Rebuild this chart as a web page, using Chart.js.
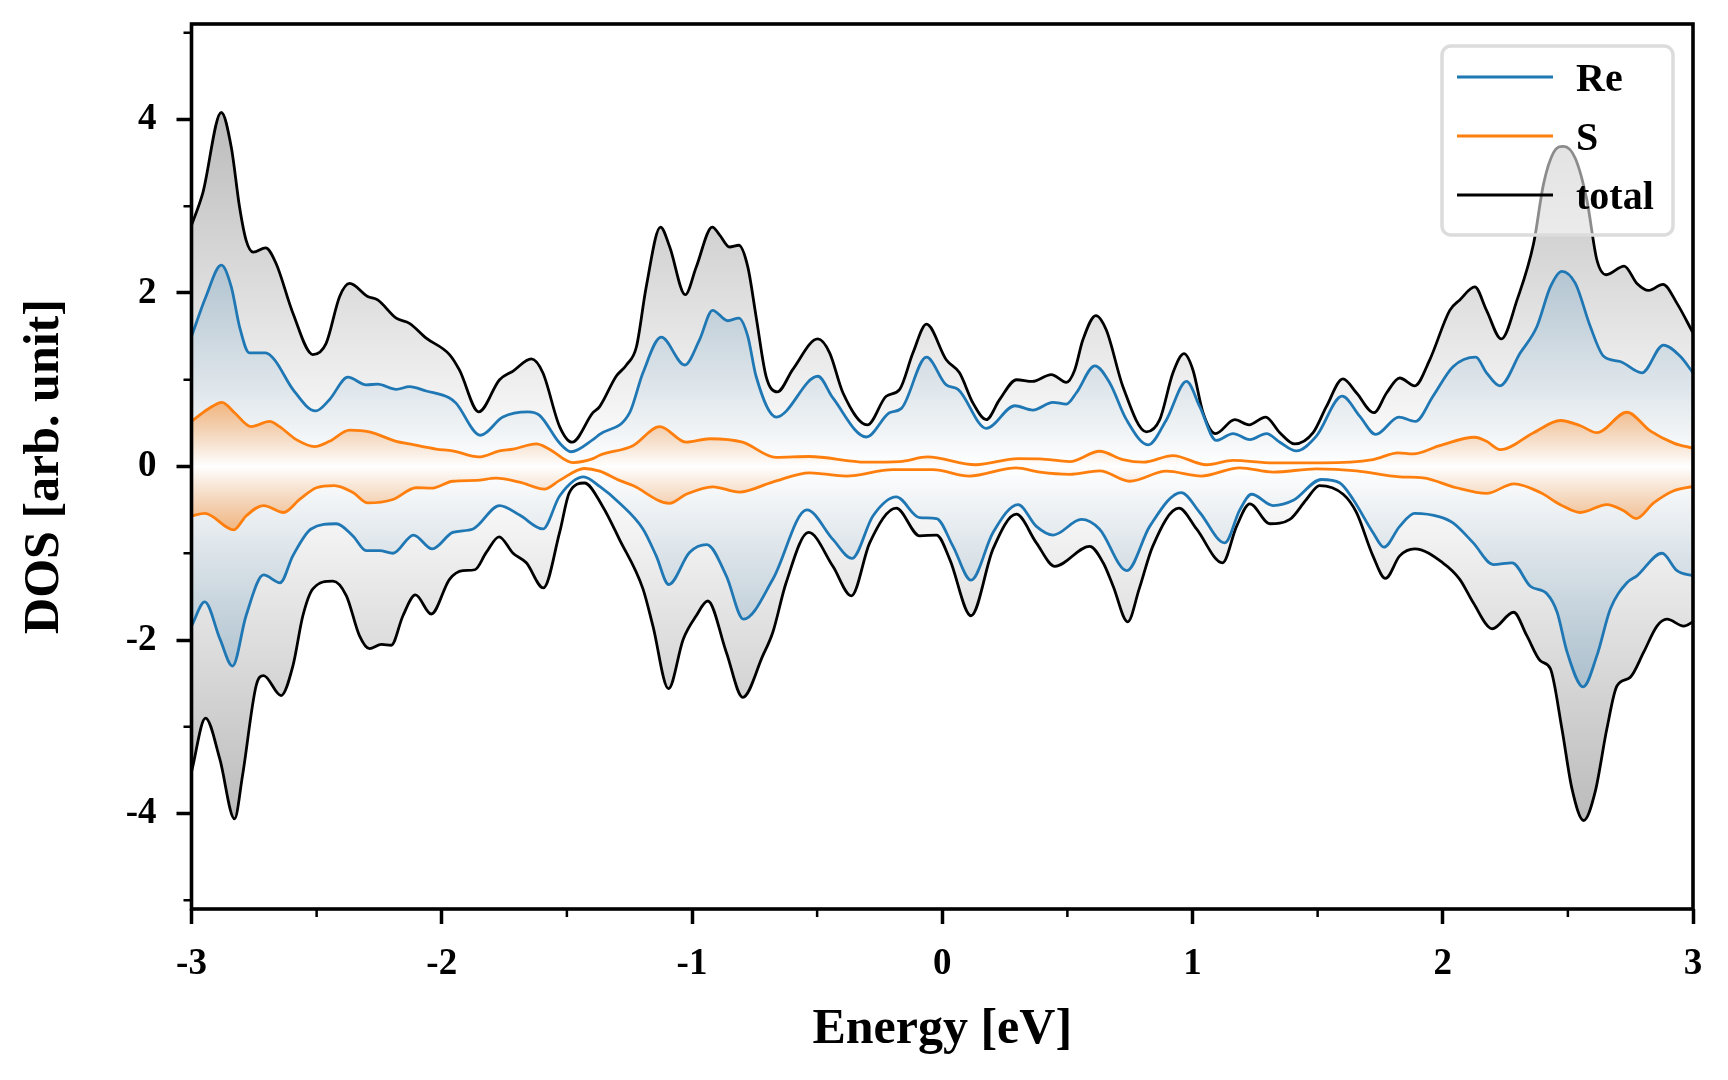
<!DOCTYPE html>
<html>
<head>
<meta charset="utf-8">
<script src="https://cdn.jsdelivr.net/npm/chart.js@4.4.1/dist/chart.umd.min.js"></script>
<style>
  html, body { margin: 0; padding: 0; background: #fff; }
  #wrap { width: 1728px; height: 1080px; position: relative; }
</style>
</head>
<body>
<div id="wrap"><canvas id="c"></canvas></div>
<script>
// ---- data: [energy (eV), DOS] ----
const totalUp = [[-3.000,2.78],[-2.955,3.15],[-2.881,4.08],[-2.841,3.68],[-2.808,2.99],[-2.782,2.61],[-2.753,2.47],[-2.704,2.52],[-2.662,2.34],[-2.595,1.77],[-2.515,1.29],[-2.462,1.42],[-2.408,1.96],[-2.368,2.11],[-2.296,1.96],[-2.256,1.92],[-2.182,1.71],[-2.129,1.65],[-2.062,1.48],[-1.969,1.29],[-1.929,1.11],[-1.852,0.63],[-1.769,1.00],[-1.715,1.10],[-1.642,1.24],[-1.596,1.08],[-1.529,0.46],[-1.479,0.28],[-1.396,0.62],[-1.369,0.69],[-1.303,1.04],[-1.262,1.17],[-1.222,1.38],[-1.183,2.07],[-1.126,2.76],[-1.089,2.53],[-1.027,1.98],[-0.983,2.30],[-0.919,2.76],[-0.890,2.67],[-0.850,2.53],[-0.813,2.55],[-0.777,2.30],[-0.744,1.73],[-0.704,1.04],[-0.659,0.86],[-0.597,1.12],[-0.497,1.47],[-0.450,1.31],[-0.397,0.85],[-0.299,0.48],[-0.224,0.81],[-0.170,0.89],[-0.117,1.31],[-0.063,1.64],[0.016,1.23],[0.069,1.08],[0.123,0.73],[0.176,0.54],[0.229,0.77],[0.297,1.00],[0.360,0.98],[0.436,1.06],[0.496,0.97],[0.529,1.11],[0.562,1.46],[0.614,1.74],[0.656,1.57],[0.722,0.92],[0.816,0.40],[0.869,0.54],[0.922,1.08],[0.966,1.30],[1.002,1.11],[1.042,0.62],[1.092,0.38],[1.169,0.54],[1.226,0.48],[1.292,0.57],[1.349,0.39],[1.408,0.26],[1.482,0.39],[1.535,0.69],[1.601,1.01],[1.655,0.85],[1.725,0.62],[1.776,0.85],[1.828,1.02],[1.888,0.93],[1.948,1.23],[2.028,1.80],[2.068,1.92],[2.128,2.07],[2.175,1.80],[2.234,1.47],[2.297,1.92],[2.363,2.57],[2.403,3.26],[2.443,3.62],[2.483,3.69],[2.530,3.55],[2.576,3.07],[2.616,2.38],[2.653,2.21],[2.725,2.31],[2.776,2.11],[2.823,2.03],[2.880,2.10],[2.936,1.88],[3.000,1.54]];

const totalDown = [[-3.000,-3.52],[-2.944,-2.90],[-2.887,-3.37],[-2.828,-4.06],[-2.796,-3.56],[-2.742,-2.53],[-2.712,-2.41],[-2.642,-2.64],[-2.595,-2.30],[-2.555,-1.72],[-2.515,-1.41],[-2.435,-1.32],[-2.381,-1.49],[-2.329,-1.95],[-2.289,-2.10],[-2.241,-2.05],[-2.202,-2.06],[-2.155,-1.72],[-2.105,-1.48],[-2.042,-1.70],[-1.969,-1.30],[-1.916,-1.20],[-1.868,-1.19],[-1.822,-0.99],[-1.771,-0.81],[-1.715,-1.00],[-1.662,-1.11],[-1.594,-1.40],[-1.529,-0.76],[-1.490,-0.30],[-1.430,-0.19],[-1.357,-0.46],[-1.290,-0.84],[-1.196,-1.41],[-1.156,-1.84],[-1.094,-2.56],[-1.035,-1.99],[-0.983,-1.72],[-0.937,-1.55],[-0.863,-2.14],[-0.797,-2.66],[-0.717,-2.18],[-0.677,-1.91],[-0.624,-1.34],[-0.534,-0.76],[-0.437,-1.15],[-0.363,-1.49],[-0.290,-0.88],[-0.184,-0.48],[-0.090,-0.80],[-0.023,-0.79],[0.030,-1.07],[0.115,-1.72],[0.203,-0.95],[0.296,-0.55],[0.376,-0.88],[0.450,-1.15],[0.589,-0.92],[0.643,-1.11],[0.683,-1.38],[0.741,-1.79],[0.787,-1.41],[0.841,-0.92],[0.946,-0.48],[1.016,-0.72],[1.120,-1.11],[1.176,-0.69],[1.229,-0.43],[1.309,-0.66],[1.389,-0.61],[1.455,-0.38],[1.508,-0.22],[1.602,-0.32],[1.655,-0.53],[1.721,-1.03],[1.771,-1.29],[1.828,-1.03],[1.888,-0.95],[2.000,-1.11],[2.068,-1.30],[2.122,-1.57],[2.198,-1.87],[2.283,-1.68],[2.336,-1.95],[2.390,-2.24],[2.430,-2.33],[2.476,-3.02],[2.516,-3.71],[2.563,-4.08],[2.609,-3.75],[2.656,-3.02],[2.696,-2.53],[2.749,-2.43],[2.803,-2.14],[2.856,-1.84],[2.896,-1.76],[2.963,-1.84],[3.000,-1.79]];

const reUp = [[-3.000,1.50],[-2.942,1.96],[-2.881,2.32],[-2.841,2.07],[-2.808,1.61],[-2.769,1.31],[-2.704,1.31],[-2.668,1.23],[-2.595,0.89],[-2.504,0.64],[-2.449,0.77],[-2.375,1.03],[-2.302,0.94],[-2.256,0.95],[-2.182,0.89],[-2.129,0.92],[-2.062,0.87],[-1.969,0.79],[-1.943,0.73],[-1.846,0.36],[-1.756,0.57],[-1.656,0.63],[-1.609,0.59],[-1.529,0.27],[-1.483,0.17],[-1.396,0.31],[-1.369,0.37],[-1.249,0.62],[-1.196,1.08],[-1.123,1.49],[-1.029,1.17],[-0.970,1.46],[-0.918,1.80],[-0.857,1.68],[-0.813,1.71],[-0.777,1.50],[-0.744,1.04],[-0.663,0.57],[-0.497,1.04],[-0.437,0.79],[-0.303,0.34],[-0.211,0.62],[-0.163,0.67],[-0.063,1.26],[0.016,0.94],[0.063,0.89],[0.176,0.44],[0.290,0.70],[0.362,0.65],[0.442,0.74],[0.496,0.72],[0.536,0.85],[0.610,1.16],[0.670,0.96],[0.736,0.54],[0.823,0.25],[0.896,0.54],[0.976,0.98],[1.029,0.69],[1.095,0.30],[1.162,0.38],[1.229,0.31],[1.296,0.38],[1.349,0.28],[1.415,0.18],[1.495,0.35],[1.598,0.81],[1.668,0.58],[1.732,0.37],[1.825,0.57],[1.891,0.52],[1.961,0.81],[2.041,1.15],[2.132,1.26],[2.175,1.08],[2.228,0.93],[2.310,1.31],[2.376,1.61],[2.430,2.07],[2.476,2.25],[2.530,2.11],[2.590,1.61],[2.643,1.27],[2.709,1.21],[2.796,1.08],[2.882,1.40],[2.949,1.27],[3.000,1.08]];

const reDown = [[-3.000,-1.84],[-2.947,-1.56],[-2.886,-1.99],[-2.836,-2.30],[-2.782,-1.72],[-2.712,-1.25],[-2.646,-1.34],[-2.595,-1.03],[-2.522,-0.72],[-2.422,-0.66],[-2.355,-0.80],[-2.302,-0.97],[-2.249,-0.97],[-2.195,-1.00],[-2.113,-0.79],[-2.038,-0.95],[-1.956,-0.76],[-1.875,-0.72],[-1.769,-0.45],[-1.689,-0.56],[-1.596,-0.72],[-1.529,-0.34],[-1.433,-0.12],[-1.369,-0.23],[-1.290,-0.42],[-1.196,-0.72],[-1.143,-1.03],[-1.093,-1.36],[-1.010,-0.99],[-0.941,-0.90],[-0.863,-1.26],[-0.794,-1.76],[-0.677,-1.30],[-0.541,-0.50],[-0.437,-0.84],[-0.361,-1.06],[-0.277,-0.57],[-0.184,-0.35],[-0.090,-0.59],[-0.023,-0.60],[0.043,-0.92],[0.115,-1.31],[0.203,-0.76],[0.303,-0.44],[0.376,-0.69],[0.443,-0.79],[0.556,-0.61],[0.628,-0.72],[0.738,-1.20],[0.829,-0.69],[0.955,-0.30],[1.029,-0.53],[1.129,-0.88],[1.189,-0.50],[1.236,-0.32],[1.322,-0.45],[1.403,-0.39],[1.515,-0.15],[1.589,-0.19],[1.642,-0.38],[1.721,-0.76],[1.765,-0.93],[1.828,-0.69],[1.888,-0.54],[1.988,-0.58],[2.041,-0.65],[2.122,-0.88],[2.202,-1.13],[2.277,-1.11],[2.350,-1.38],[2.417,-1.47],[2.457,-1.68],[2.497,-2.14],[2.561,-2.54],[2.616,-2.18],[2.670,-1.64],[2.736,-1.34],[2.776,-1.26],[2.876,-1.00],[2.936,-1.20],[3.000,-1.26]];

const sUp = [[-3.000,0.52],[-2.935,0.66],[-2.878,0.74],[-2.828,0.62],[-2.762,0.46],[-2.688,0.52],[-2.648,0.46],[-2.581,0.31],[-2.508,0.23],[-2.449,0.29],[-2.368,0.42],[-2.289,0.40],[-2.182,0.29],[-2.129,0.26],[-2.022,0.20],[-1.956,0.18],[-1.852,0.11],[-1.769,0.18],[-1.715,0.20],[-1.622,0.26],[-1.570,0.20],[-1.476,0.045],[-1.396,0.09],[-1.369,0.13],[-1.236,0.24],[-1.129,0.46],[-1.023,0.28],[-0.929,0.32],[-0.798,0.28],[-0.665,0.105],[-0.531,0.115],[-0.304,0.05],[-0.170,0.057],[-0.059,0.11],[0.133,0.02],[0.303,0.09],[0.390,0.088],[0.509,0.057],[0.629,0.176],[0.722,0.08],[0.803,0.05],[0.922,0.126],[1.055,0.02],[1.162,0.07],[1.322,0.042],[1.521,0.042],[1.721,0.08],[1.822,0.157],[1.881,0.145],[1.988,0.24],[2.128,0.337],[2.175,0.29],[2.230,0.195],[2.363,0.39],[2.470,0.53],[2.550,0.47],[2.616,0.39],[2.736,0.625],[2.829,0.41],[2.923,0.27],[3.000,0.21]];

const sDown = [[-3.000,-0.57],[-2.947,-0.54],[-2.831,-0.73],[-2.782,-0.57],[-2.712,-0.45],[-2.632,-0.53],[-2.568,-0.38],[-2.501,-0.245],[-2.429,-0.22],[-2.355,-0.30],[-2.296,-0.42],[-2.195,-0.38],[-2.102,-0.245],[-2.042,-0.25],[-1.956,-0.17],[-1.862,-0.16],[-1.783,-0.135],[-1.689,-0.18],[-1.590,-0.26],[-1.529,-0.16],[-1.430,-0.023],[-1.369,-0.054],[-1.290,-0.16],[-1.236,-0.22],[-1.090,-0.425],[-1.023,-0.32],[-0.917,-0.234],[-0.811,-0.295],[-0.678,-0.18],[-0.529,-0.073],[-0.384,-0.11],[-0.197,-0.035],[-0.038,-0.035],[0.108,-0.11],[0.295,-0.015],[0.390,-0.065],[0.509,-0.09],[0.629,-0.05],[0.749,-0.17],[0.895,-0.054],[1.035,-0.11],[1.189,-0.015],[1.322,-0.065],[1.495,-0.027],[1.655,-0.05],[1.828,-0.12],[1.921,-0.13],[2.054,-0.245],[2.175,-0.31],[2.285,-0.20],[2.390,-0.30],[2.470,-0.44],[2.550,-0.53],[2.656,-0.44],[2.723,-0.51],[2.773,-0.60],[2.843,-0.42],[2.923,-0.28],[3.000,-0.23]];

const seriesLabels = ['Re', 'S', 'total'];
const xRange = [-3, 3];
const yRange = [-5.1, 5.1];

// ---- styling ----
const FONT = "'Liberation Serif', 'Times New Roman', serif";
const COL = { Re: '#1f77b4', S: '#ff7f0e', total: '#000000' };
const GRAD = {
  total: [[5.1, 'rgb(170,170,170)'], [0, 'rgb(255,255,255)'], [-5.1, 'rgb(170,170,170)']],
  Re:    [[5.1, 'rgba(31,119,180,0.46)'], [0, 'rgba(31,119,180,0)'], [-5.1, 'rgba(31,119,180,0.46)']],
  S:     [[1.5, 'rgba(255,127,14,1)'], [0, 'rgba(255,127,14,0)'], [-1.5, 'rgba(255,127,14,1)']]
};

function gradFor(name) {
  return function (context) {
    const chart = context.chart;
    const { ctx, chartArea, scales } = chart;
    if (!chartArea || !scales || !scales.y) return 'rgba(0,0,0,0)';
    const stops = GRAD[name];
    const v0 = stops[0][0], v1 = stops[stops.length - 1][0];
    const p0 = scales.y.getPixelForValue(v0), p1 = scales.y.getPixelForValue(v1);
    const g = ctx.createLinearGradient(0, p0, 0, p1);
    stops.forEach(([v, c]) => g.addColorStop((v0 - v) / (v0 - v1), c));
    return g;
  };
}

function toXY(arr) { return arr.map(([x, y]) => ({ x, y })); }

function ds(name, arr, order, inLegend) {
  return {
    label: inLegend ? name : '',
    legendName: name,
    showInLegend: inLegend,
    data: toXY(arr),
    borderColor: COL[name],
    backgroundColor: gradFor(name),
    borderWidth: 2.8,
    fill: 'origin',
    pointRadius: 0,
    pointHoverRadius: 0,
    cubicInterpolationMode: 'monotone',
    order: order
  };
}

const datasets = [
  ds('Re', reUp, 1, true),
  ds('Re', reDown, 1, false),
  ds('S', sUp, 0, true),
  ds('S', sDown, 0, false),
  ds('total', totalUp, 2, true),
  ds('total', totalDown, 2, false)
];

// legend drawn inside the plot area (top right)
const insideLegend = {
  id: 'insideLegend',
  afterDatasetsDraw(chart) {
    const { ctx, chartArea: a } = chart;
    const w = 231, h = 189;
    const x0 = a.right - 20 - w, y0 = a.top + 22;
    ctx.save();
    ctx.beginPath();
    ctx.roundRect(x0, y0, w, h, 9);
    ctx.fillStyle = 'rgba(255,255,255,0.55)';
    ctx.fill();
    ctx.lineWidth = 3.5;
    ctx.strokeStyle = '#dcdcdc';
    ctx.stroke();
    const items = seriesLabels.map(n => chart.data.datasets.find(d => d.showInLegend && d.legendName === n));
    items.forEach((d, i) => {
      const yy = y0 + 31 + i * 59;
      ctx.beginPath();
      ctx.moveTo(x0 + 15, yy);
      ctx.lineTo(x0 + 111, yy);
      ctx.strokeStyle = d.borderColor;
      ctx.lineWidth = 2.8;
      ctx.stroke();
      ctx.fillStyle = '#000';
      ctx.font = 'bold 40px ' + FONT;
      ctx.textAlign = 'left';
      ctx.textBaseline = 'alphabetic';
      ctx.fillText(d.label, x0 + 134, yy + 14);
    });
    ctx.restore();
  }
};

// frame (all four spines) and minor ticks
const frame = {
  id: 'frame',
  afterDraw(chart) {
    const { ctx, chartArea: a, scales: { x, y } } = chart;
    ctx.save();
    ctx.strokeStyle = '#000';
    ctx.lineWidth = 2.5;
    ctx.beginPath();
    x.ticks.filter(t => !Number.isInteger(t.value)).forEach(t => {
      const px = x.getPixelForValue(t.value);
      ctx.moveTo(px, a.bottom); ctx.lineTo(px, a.bottom + 8);
    });
    y.ticks.filter(t => Math.round(t.value) % 2 !== 0).forEach(t => {
      const py = y.getPixelForValue(t.value);
      ctx.moveTo(a.left, py); ctx.lineTo(a.left - 8, py);
    });
    ctx.stroke();
    ctx.lineWidth = 3.6;
    ctx.strokeRect(a.left, a.top, a.right - a.left, a.bottom - a.top);
    ctx.restore();
  }
};

const isMajorX = v => Number.isInteger(v);
const isMajorY = v => Math.round(v) % 2 === 0;

const chart = new Chart(document.getElementById('c'), {
  type: 'line',
  data: { datasets },
  plugins: [insideLegend, frame],
  options: {
    responsive: true,
    maintainAspectRatio: false,
    animation: false,
    events: [],
    layout: { padding: { left: 0, right: 35, top: 24, bottom: 0 } },
    plugins: {
      legend: { display: false },
      tooltip: { enabled: false },
      filler: { propagate: false }
    },
    scales: {
      x: {
        type: 'linear',
        min: xRange[0], max: xRange[1],
        afterFit: s => { s.height = 171; s.paddingLeft = 0; s.paddingRight = 0; },
        border: { display: false },
        grid: {
          drawOnChartArea: false, drawTicks: true, tickLength: 15,
          tickWidth: 3.5,
          tickColor: c => (c.tick && isMajorX(c.tick.value)) ? '#000' : 'rgba(0,0,0,0)'
        },
        ticks: {
          stepSize: 0.5, includeBounds: false, autoSkip: false, maxRotation: 0,
          padding: 18, color: '#000',
          font: { family: FONT, size: 37, weight: 'bold' },
          callback: v => isMajorX(v) ? String(v) : ''
        },
        title: {
          display: true, text: 'Energy [eV]', color: '#000',
          font: { family: FONT, size: 50, weight: 'bold' },
          padding: { top: 0, bottom: 20 }
        }
      },
      y: {
        type: 'linear',
        min: yRange[0], max: yRange[1],
        afterFit: s => { s.width = 191.5; s.paddingTop = 0; s.paddingBottom = 0; },
        border: { display: false },
        grid: {
          drawOnChartArea: false, drawTicks: true, tickLength: 15,
          tickWidth: 3.5,
          tickColor: c => (c.tick && isMajorY(c.tick.value)) ? '#000' : 'rgba(0,0,0,0)'
        },
        ticks: {
          stepSize: 1, includeBounds: false, autoSkip: false,
          padding: 20, color: '#000',
          font: { family: FONT, size: 37, weight: 'bold' },
          callback: v => isMajorY(v) ? String(v) : ''
        },
        title: {
          display: true, text: 'DOS [arb. unit]', color: '#000',
          font: { family: FONT, size: 50, weight: 'bold' },
          padding: { top: 15, bottom: 0 }
        }
      }
    }
  }
});
chart.update();
</script>
</body>
</html>
